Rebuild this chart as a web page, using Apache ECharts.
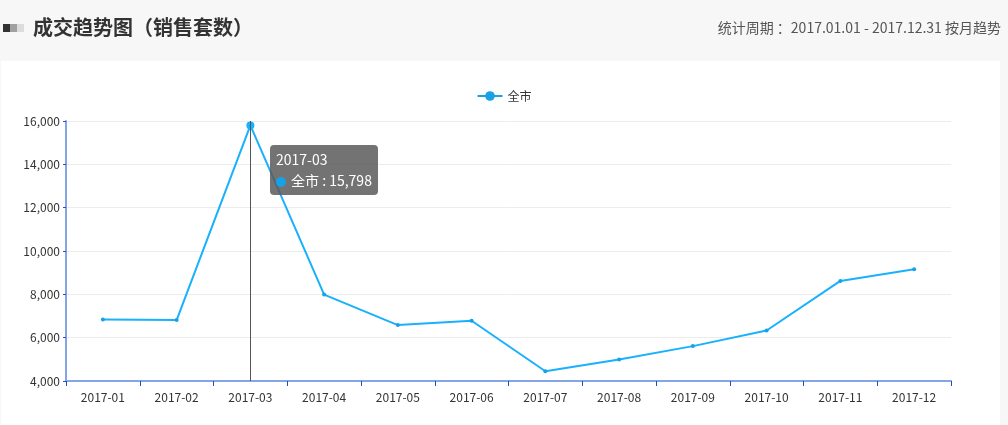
<!DOCTYPE html>
<html>
<head>
<meta charset="utf-8">
<script src="https://cdn.jsdelivr.net/npm/echarts@6/dist/echarts.min.js"></script>
<style>
html,body{margin:0;padding:0;background:#f7f7f7;}
#chart{width:1008px;height:425px;}
</style>
</head>
<body>
<div id="chart"></div>
<script>
const months = ['2017-01','2017-02','2017-03','2017-04','2017-05','2017-06','2017-07','2017-08','2017-09','2017-10','2017-11','2017-12'];
const cityValues = [6840, 6810, 15798, 7990, 6580, 6780, 4450, 4990, 5610, 6330, 8620, 9160];
const seriesName = '全市';
const yTicks = {min: 4000, max: 16000, interval: 2000};
const titleText = '成交趋势图（销售套数）';
const periodText = '统计周期 ：2017.01.01 - 2017.12.31 按月趋势';
const tipIndex = 2;

const font = "'Microsoft YaHei','Noto Sans CJK SC','Noto Sans',sans-serif";
const lineColor = '#17a1e6';
const chart = echarts.init(document.getElementById('chart'));
const fmt = v => Number(v).toLocaleString('en-US');

chart.setOption({
  backgroundColor: '#f7f7f7',
  textStyle: {fontFamily: font},
  graphic: [
    {type: 'rect', shape: {x: 1, y: 61, width: 999, height: 370}, style: {fill: '#ffffff'}, z: -10},
    {type: 'rect', shape: {x: 3, y: 24, width: 7, height: 8}, style: {fill: '#333333'}},
    {type: 'rect', shape: {x: 10, y: 24, width: 7, height: 8}, style: {fill: '#a0a0a0'}},
    {type: 'rect', shape: {x: 17, y: 24, width: 7, height: 8}, style: {fill: '#dcdcdc'}},
    {type: 'text', left: 33, top: 17, style: {text: titleText, fill: '#333333', font: "bold 20px " + font}},
    {type: 'text', right: 7, top: 21, style: {text: periodText, fill: '#555555', font: "14px " + font}}
  ],
  legend: {
    data: [seriesName],
    top: 85,
    left: 'center',
    itemWidth: 25,
    itemHeight: 12,
    textStyle: {color: '#333', fontSize: 12, fontFamily: font}
  },
  grid: {left: 66, right: 57, top: 121, bottom: 44},
  tooltip: {
    trigger: 'axis',
    alwaysShowContent: true,
    backgroundColor: 'rgba(90,90,90,0.85)',
    borderWidth: 0,
    padding: [4, 6],
    textStyle: {color: '#fff', fontSize: 14, fontFamily: font},
    extraCssText: 'border-radius:4px;box-shadow:none;line-height:21px;',
    axisPointer: {type: 'line', lineStyle: {color: '#555', width: 1, type: 'solid'}},
    position: function () {
      const p = chart.convertToPixel({seriesIndex: 0}, [tipIndex, cityValues[tipIndex]]);
      return [p[0] + 20, p[1] + 20];
    },
    formatter: function (params) {
      const p = params[0];
      return p.name + '<br/><span style="display:inline-block;width:10px;height:10px;border-radius:5px;background:' + lineColor + ';margin-right:5px;vertical-align:-1px;"></span>' + p.seriesName + ' : ' + fmt(p.value);
    }
  },
  xAxis: {
    type: 'category',
    data: months,
    boundaryGap: true,
    axisLine: {lineStyle: {color: '#85a5e8', width: 2}},
    axisTick: {show: true, length: 5, lineStyle: {color: '#1a50d0'}},
    axisLabel: {color: '#333', fontSize: 12, margin: 10, fontFamily: font},
    splitLine: {show: false}
  },
  yAxis: {
    type: 'value',
    min: yTicks.min,
    max: yTicks.max,
    interval: yTicks.interval,
    axisLine: {show: true, lineStyle: {color: '#85a5e8', width: 2}},
    axisTick: {show: true, length: 3, lineStyle: {color: '#1a50d0'}},
    axisLabel: {color: '#333', fontSize: 12, margin: 6, formatter: v => fmt(v), fontFamily: font},
    splitLine: {show: true, lineStyle: {color: '#ececec', width: 1}}
  },
  series: [{
    name: seriesName,
    type: 'line',
    data: cityValues,
    symbol: 'circle',
    symbolSize: 4,
    showSymbol: true,
    lineStyle: {color: lineColor, width: 2},
    itemStyle: {color: lineColor},
    emphasis: {scale: 2}
  }]
});

setTimeout(function () {
  chart.dispatchAction({type: 'showTip', seriesIndex: 0, dataIndex: tipIndex});
}, 100);
</script>
</body>
</html>
